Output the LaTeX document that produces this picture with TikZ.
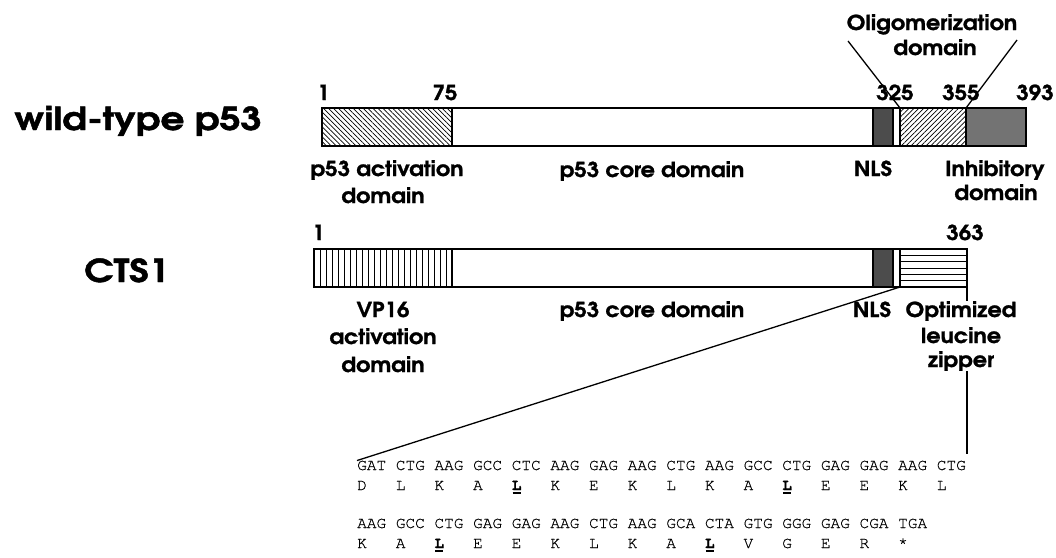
\documentclass[tikz,border=0pt]{standalone}
\usepackage{fontspec}
\usetikzlibrary{patterns.meta,calc}
\newfontfamily\gothic{texgyreadventor-bold}[Extension=.otf,FakeStretch=1.08,FakeBold=1.2]
\newfontfamily\gothicwide{texgyreadventor-bold}[Extension=.otf,FakeStretch=1.19,FakeBold=1.5]
\newfontfamily\seqfont{TeX Gyre Cursor}[FakeBold=0.6]
\newcommand\ulL{\textbf{L}\llap{\rule[-4pt]{8pt}{1.6pt}\hspace{0.8pt}}}
\begin{document}
\begin{tikzpicture}[x=1pt,y=-1pt,
  seg/.style={draw, line width=1.3pt, minimum height=38pt, inner sep=0pt, outer sep=0pt, anchor=north west},
  lab/.style={font=\gothic\fontsize{20.6}{24}\selectfont, inner sep=0pt, anchor=base},
  bigname/.style={font=\gothicwide\fontsize{31.5}{36}\selectfont, inner sep=0pt, anchor=base},
  seq/.style={font=\seqfont\fontsize{16.1}{18}\selectfont, inner sep=0pt, anchor=base west},
  conn/.style={line width=1.3pt}]
\useasboundingbox (0,0) rectangle (1056,557);
% names
\node[bigname] (wt) at (138,130) {wild-type p53};
\node[bigname] (cts) at (127,282) {CTS1};
% row 1 bar
\node[seg, minimum width=130pt, pattern={Lines[angle=-45,distance=3.5pt,line width=0.7pt]}] (act) at (322,108) {};
\node[seg, minimum width=421pt] (core) at (452,108) {};
\node[seg, minimum width=20pt, fill=black!70] (nls) at (873,108) {};
\node[seg, minimum width=7pt] (gap) at (893,108) {};
\node[seg, minimum width=66pt, pattern={Lines[angle=45,distance=3.5pt,line width=0.7pt]}] (oligo) at (900,108) {};
\node[seg, minimum width=60pt, fill=black!55] (inh) at (966,108) {};
% row 1 numbers
\node[lab, anchor=base west] (n1) at (317,100) {1};
\node[lab] (n75) at (445,100) {75};
\node[lab] (n325) at (895,100) {325};
\node[lab] (n355) at (961,100) {355};
\node[lab] (n393) at (1035,100) {393};
% oligomerization label
\node[lab] (olig1) at (932,30) {Oligomerization};
\node[lab] (olig2) at (935,55) {domain};
\coordinate (oL) at (848,41);
\coordinate (oR) at (1017,40);
\draw[conn] (oL) -- (oligo.north west);
\draw[conn] (oR) -- (oligo.north east);
% row 1 labels
\node[lab] (lact1) at (387,176) {p53 activation};
\node[lab] (lact2) at (383,203) {domain};
\node[lab] (lcore1) at (652,177) {p53 core domain};
\node[lab] (lnls1) at (873,176) {NLS};
\node[lab] (linh1) at (995,176) {Inhibitory};
\node[lab] (linh2) at (996,200) {domain};
% row 2 bar
\node[seg, minimum width=138pt, path picture={\foreach \k in {1,...,22} \draw[line width=0.8pt] ([xshift=\k*6pt]path picture bounding box.south west) -- ([xshift=\k*6pt]path picture bounding box.north west);}] (vp) at (314,249) {};
\node[seg, minimum width=421pt] (core2) at (452,249) {};
\node[seg, minimum width=20pt, fill=black!70] (nls2) at (873,249) {};
\node[seg, minimum width=7pt] (gap2) at (893,249) {};
\node[seg, minimum width=67pt, path picture={\foreach \k in {1,...,5} \draw[line width=1pt] ([yshift=\k*6.33pt]path picture bounding box.south west) -- ([yshift=\k*6.33pt]path picture bounding box.south east);}] (zip) at (900,249) {};
% row 2 numbers
\node[lab, anchor=base west] (m1) at (312,240) {1};
\node[lab] (m363) at (965,240) {363};
% row 2 labels
\node[lab] (lvp1) at (383,317) {VP16};
\node[lab] (lvp2) at (383,344) {activation};
\node[lab] (lvp3) at (383,372) {domain};
\node[lab] (lcore2) at (652,317) {p53 core domain};
\node[lab] (lnls2) at (872,317) {NLS};
\node[lab] (lopt) at (961,317) {Optimized};
\node[lab] (lleu) at (961,343) {leucine};
\node[lab] (lzip) at (961,367) {zipper};
% sequence
\foreach \c [count=\i from 0] in {GAT,CTG,AAG,GCC,CTC,AAG,GAG,AAG,CTG,AAG,GCC,CTG,GAG,GAG,AAG,CTG}
  \node[seq] (cA\i) at ({357+\i*38.64},470) {\c};
\foreach \a [count=\i from 0] in {D,L,K,A,\ulL,K,E,K,L,K,A,\ulL,E,E,K,L}
  \node[seq] (aA\i) at ({357+\i*38.64},490) {\a};
\foreach \c [count=\i from 0] in {AAG,GCC,CTG,GAG,GAG,AAG,CTG,AAG,GCA,CTA,GTG,GGG,GAG,CGA,TGA}
  \node[seq] (cB\i) at ({357+\i*38.64},528) {\c};
\foreach \a [count=\i from 0] in {K,A,\ulL,E,E,K,L,K,A,\ulL,V,G,E,R,*}
  \node[seq] (aB\i) at ({357+\i*38.64},548) {\a};
% connectors to sequence
\coordinate (vEnd) at ($(zip.south east |- cA15.north)+(0,-7)$);
\draw[conn] (zip.south west) -- (cA0.north west);
\draw[conn] (zip.south east) -- (lopt.north -| zip.south east);
\draw[conn] (lzip.south -| zip.south east) -- (vEnd);
\end{tikzpicture}
\end{document}
